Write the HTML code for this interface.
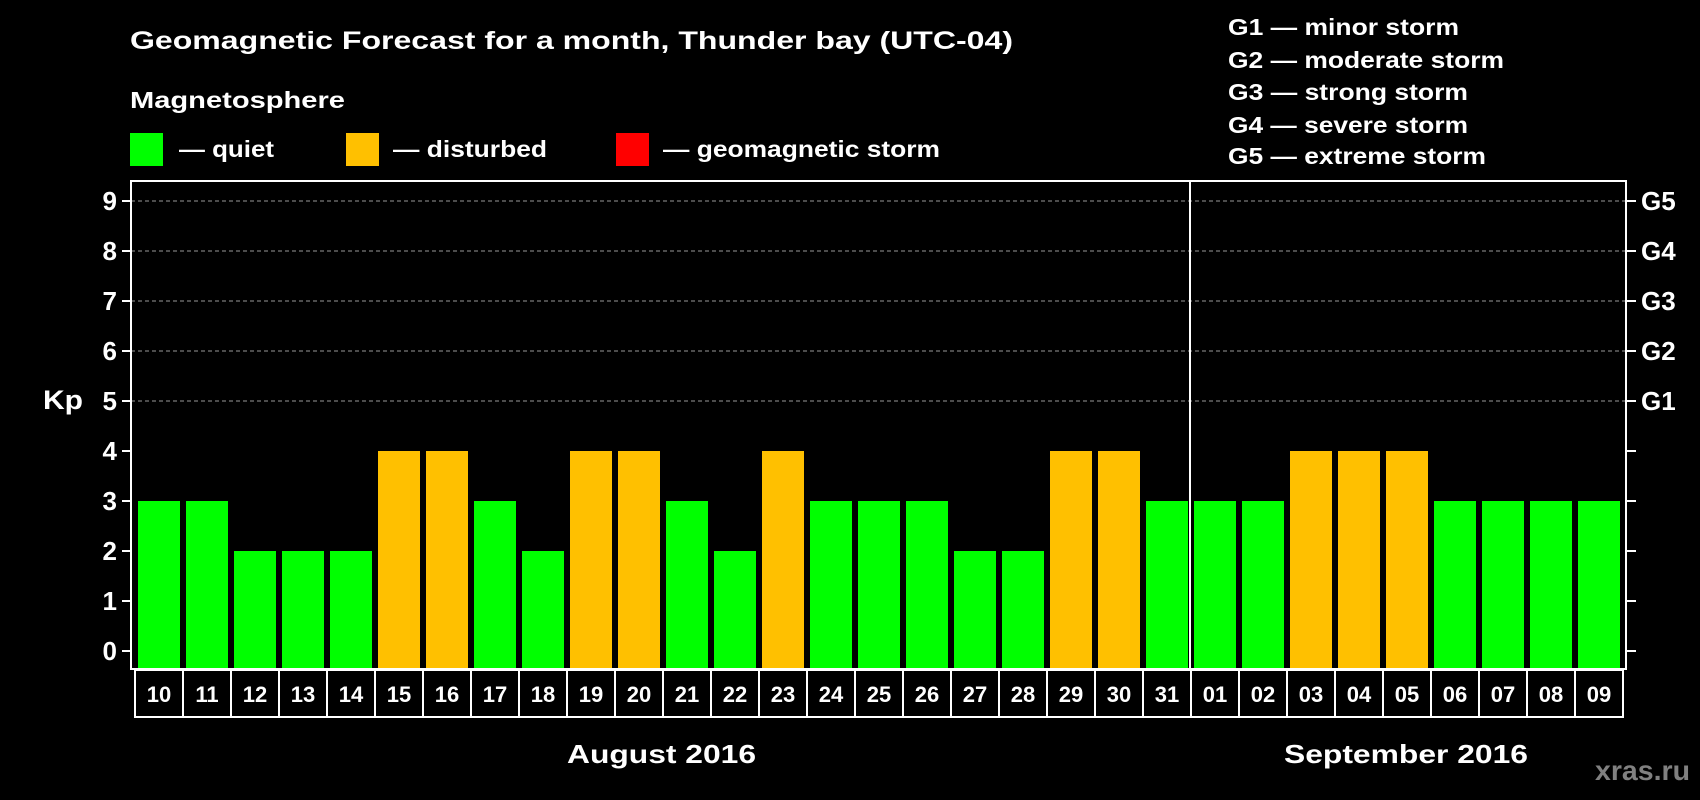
<!DOCTYPE html>
<html><head><meta charset="utf-8"><style>
html,body{margin:0;padding:0;background:#000;width:1700px;height:800px;overflow:hidden}
svg text{font-family:"Liberation Sans",Arial,sans-serif;font-weight:bold;fill:#fff}
</style></head><body>
<svg id="chart" width="1700" height="800" xmlns="http://www.w3.org/2000/svg">
<rect width="1700" height="800" fill="#000"/>
<text x="130" y="49" font-size="25" textLength="883" lengthAdjust="spacingAndGlyphs">Geomagnetic Forecast for a month, Thunder bay (UTC-04)</text>
<text x="130" y="108" font-size="23" textLength="215" lengthAdjust="spacingAndGlyphs">Magnetosphere</text>
<g><rect x="130" y="133" width="33" height="33" fill="#00ff00"/><text x="179" y="157" font-size="23" textLength="95" lengthAdjust="spacingAndGlyphs">— quiet</text></g>
<g><rect x="346" y="133" width="33" height="33" fill="#ffc000"/><text x="393" y="157" font-size="23" textLength="154" lengthAdjust="spacingAndGlyphs">— disturbed</text></g>
<g><rect x="616" y="133" width="33" height="33" fill="#ff0000"/><text x="663" y="157" font-size="23" textLength="277" lengthAdjust="spacingAndGlyphs">— geomagnetic storm</text></g>
<g font-size="23">
<text x="1228" y="35" textLength="231" lengthAdjust="spacingAndGlyphs">G1 — minor storm</text>
<text x="1228" y="68" textLength="276" lengthAdjust="spacingAndGlyphs">G2 — moderate storm</text>
<text x="1228" y="100" textLength="240" lengthAdjust="spacingAndGlyphs">G3 — strong storm</text>
<text x="1228" y="133" textLength="240" lengthAdjust="spacingAndGlyphs">G4 — severe storm</text>
<text x="1228" y="164" textLength="258" lengthAdjust="spacingAndGlyphs">G5 — extreme storm</text>
</g>
<text x="43" y="409" font-size="27" textLength="40" lengthAdjust="spacingAndGlyphs">Kp</text>
<g id="plot"></g>
<text x="567" y="763" font-size="26" textLength="189" lengthAdjust="spacingAndGlyphs">August 2016</text>
<text x="1284" y="763" font-size="26" textLength="244" lengthAdjust="spacingAndGlyphs">September 2016</text>
<text x="1595" y="780" font-size="28" textLength="95" lengthAdjust="spacingAndGlyphs" style="fill:#808080">xras.ru</text>
</svg>
<script>
const days=["10","11","12","13","14","15","16","17","18","19","20","21","22","23","24","25","26","27","28","29","30","31","01","02","03","04","05","06","07","08","09"];
const kpValues=[3,3,2,2,2,4,4,3,2,4,4,3,2,4,3,3,3,2,2,4,4,3,3,3,4,4,4,3,3,3,3];
const yTicks=[0,1,2,3,4,5,6,7,8,9];
const gLabels=["","","","","","G1","G2","G3","G4","G5"];
(function(){
const NS="http://www.w3.org/2000/svg";
const plot=document.getElementById('plot');
const pLeft=131,pRight=1626,pTop=181,pBottom=669,boxL=135,pitch=48;
const y=v=>651-v*50;
const x=i=>boxL+i*pitch;
function mk(t,a){const e=document.createElementNS(NS,t);for(const k in a)e.setAttribute(k,a[k]);plot.appendChild(e);return e;}
yTicks.forEach((v,i)=>{
 if(v>=5){const g=mk('line',{x1:pLeft,x2:pRight,y1:y(v),y2:y(v),stroke:'#999','stroke-dasharray':'4,3','stroke-width':1});
 
 }
 const t1=mk('line',{x1:pLeft-9,x2:pLeft,y1:y(v),y2:y(v),stroke:'#fff','stroke-width':2});
 
 
 const t2=mk('line',{x1:pRight,x2:pRight+10,y1:y(v),y2:y(v),stroke:'#fff','stroke-width':2});
 
 
 const l=mk('text',{x:117,y:y(v)+9,'font-size':26,'text-anchor':'end'});l.textContent=v;
 
 
 if(gLabels[i]){const g=mk('text',{x:1641,y:y(v)+9,'font-size':26});g.textContent=gLabels[i];
 
 }
});
kpValues.forEach((v,i)=>{
 const b=mk('rect',{x:x(i)+3,y:y(v),width:42,height:pBottom-1-y(v),fill:v>=5?'#ff0000':(v>=4?'#ffc000':'#00ff00')});
 
 
 const bx=mk('rect',{x:x(i),y:670,width:pitch,height:47,fill:'none',stroke:'#fff','stroke-width':2});
 
 
 const t=mk('text',{x:x(i)+pitch/2,y:702,'font-size':22,'text-anchor':'middle'});t.textContent=days[i];
 
 
});
const fr=mk('rect',{x:pLeft,y:pTop,width:pRight-pLeft,height:pBottom-pTop,fill:'none',stroke:'#fff','stroke-width':2});


const sepIdx=days.indexOf("01");
const sp=mk('line',{x1:x(sepIdx)-1,x2:x(sepIdx)-1,y1:pTop,y2:pBottom,stroke:'#fff','stroke-width':2});


})();
</script>
</body></html>
